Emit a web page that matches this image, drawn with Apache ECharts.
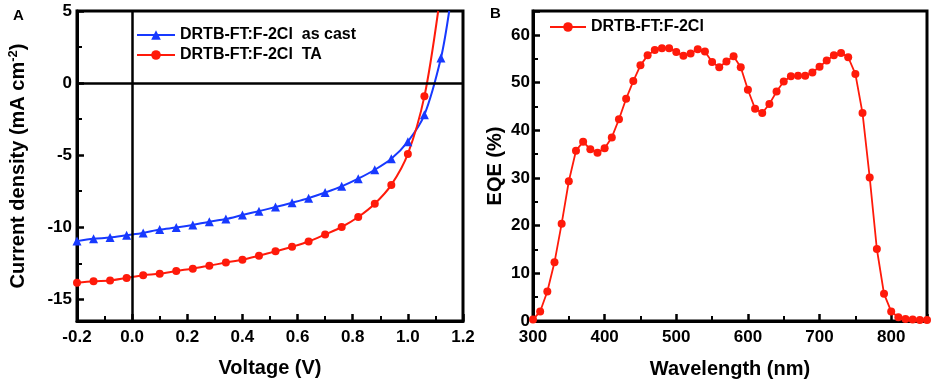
<!DOCTYPE html>
<html>
<head>
<meta charset="utf-8">
<script src="https://cdn.jsdelivr.net/npm/echarts@6/dist/echarts.min.js"></script>
<style>
  html, body { margin: 0; padding: 0; background: #fff; }
  #main { width: 936px; height: 384px; }
</style>
</head>
<body>
<div id="main"></div>
<script>
  // 面板A：J-V 曲线
  var voltage = [-0.2, -0.14, -0.08, -0.02, 0.04, 0.10, 0.16, 0.22, 0.28, 0.34, 0.40, 0.46,
    0.52, 0.58, 0.64, 0.70, 0.76, 0.82, 0.88, 0.94, 1.00, 1.06, 1.12];
  var jAsCast = [-10.96, -10.80, -10.71, -10.55, -10.39, -10.16, -10.02, -9.84, -9.61, -9.43, -9.15, -8.88,
    -8.60, -8.30, -7.98, -7.59, -7.16, -6.63, -6.01, -5.25, -4.06, -2.20, 1.74];
  var jTA = [-13.85, -13.74, -13.69, -13.51, -13.33, -13.23, -13.03, -12.87, -12.66, -12.45, -12.25, -11.97,
    -11.67, -11.35, -10.99, -10.50, -9.98, -9.29, -8.37, -7.06, -4.91, -0.92];
  // 曲线延伸到顶部（无标记点）
  var tailAsCast = [1.15, 5.0];
  var tailTA = [1.11, 5.0];

  // 面板B：EQE
  var wavelength = [300, 310, 320, 330, 340, 350, 360, 370, 380, 390, 400, 410, 420, 430, 440, 450,
    460, 470, 480, 490, 500, 510, 520, 530, 540, 550, 560, 570, 580, 590, 600, 610, 620, 630, 640,
    650, 660, 670, 680, 690, 700, 710, 720, 730, 740, 750, 760, 770, 780, 790, 800, 810, 820, 830, 840, 850];
  var eqe = [0.3, 2.0, 6.2, 12.3, 20.4, 29.3, 35.7, 37.6, 36.0, 35.3, 36.2, 38.5, 42.3, 46.6, 50.3, 53.6,
    55.7, 56.8, 57.2, 57.2, 56.4, 55.6, 56.1, 57.0, 56.5, 54.3, 53.2, 54.4, 55.5, 53.2, 48.5, 44.5, 43.6, 45.5, 48.1,
    50.2, 51.3, 51.4, 51.4, 52.1, 53.3, 54.6, 55.7, 56.2, 55.3, 51.8, 43.6, 30.1, 15.1, 5.7, 2.0, 0.8, 0.4, 0.3, 0.2, 0.2];

  var nameCast = 'DRTB-FT:F-2Cl  as cast';
  var nameTA = 'DRTB-FT:F-2Cl  TA';
  var nameEQE = 'DRTB-FT:F-2Cl';

  var FONT = 'Liberation Sans, Arial, sans-serif';
  var BLUE = '#1739ff';
  var RED = '#ff1a0a';

  function pairs(xs, ys, tail) {
    var out = [];
    for (var i = 0; i < ys.length; i++) {
      out.push([xs[i], ys[i]]);
    }
    if (tail) {
      out.push({ value: tail, symbol: 'none' });
    }
    return out;
  }

  function axisCommon() {
    return {
      axisLine: { show: true, onZero: false, lineStyle: { color: '#000', width: 3 } },
      axisTick: { show: true, inside: true, length: 7, lineStyle: { color: '#000', width: 2.5 } },
      minorTick: { show: true, splitNumber: 2, length: 5, lineStyle: { color: '#000', width: 2 } },
      splitLine: { show: false },
      axisLabel: { color: '#000', fontFamily: FONT, fontWeight: 'bold', fontSize: 17 },
      nameLocation: 'middle',
      nameTextStyle: { color: '#000', fontFamily: FONT, fontWeight: 'bold', fontSize: 20 }
    };
  }

  var chart = echarts.init(document.getElementById('main'));

  var xA = axisCommon();
  xA.gridIndex = 0;
  xA.type = 'value';
  xA.min = -0.2;
  xA.max = 1.2;
  xA.interval = 0.2;
  xA.name = 'Voltage (V)';
  xA.nameGap = 37;
  xA.axisLabel.margin = 8;
  xA.axisLabel.formatter = function (v) { return v.toFixed(1); };

  var yA = axisCommon();
  yA.gridIndex = 0;
  yA.type = 'value';
  yA.min = -16.5;
  yA.max = 5;
  yA.splitNumber = 4;
  yA.name = '{b|Current density (mA cm}{s|-2}{b|)}';
  yA.nameGap = 48;
  yA.nameTextStyle.rich = {
    b: { fontFamily: FONT, fontWeight: 'bold', fontSize: 20, color: '#000', lineHeight: 22 },
    s: { fontFamily: FONT, fontWeight: 'bold', fontSize: 13, color: '#000', verticalAlign: 'top', lineHeight: 22 }
  };
  yA.axisLabel.margin = 5;
  yA.axisLabel.showMinLabel = false;

  var xB = axisCommon();
  xB.gridIndex = 1;
  xB.type = 'value';
  xB.min = 300;
  xB.max = 850;
  xB.interval = 100;
  xB.name = 'Wavelength (nm)';
  xB.nameGap = 38;
  xB.axisLabel.margin = 8;
  xB.axisLabel.showMaxLabel = false;

  var yB = axisCommon();
  yB.gridIndex = 1;
  yB.type = 'value';
  yB.min = 0;
  yB.max = 65;
  yB.interval = 10;
  yB.name = 'EQE (%)';
  yB.nameGap = 28;
  yB.axisLabel.margin = 3;
  yB.axisLabel.showMaxLabel = false;

  var option = {
    animation: false,
    backgroundColor: '#fff',
    title: [{
      text: 'A', left: 8, top: 3,
      textStyle: { fontFamily: FONT, fontWeight: 'bold', fontSize: 15, color: '#000' }
    }, {
      text: 'B', left: 485, top: 1,
      textStyle: { fontFamily: FONT, fontWeight: 'bold', fontSize: 15, color: '#000' }
    }],
    grid: [{
      left: 77, top: 11, width: 386, height: 310,
      show: true, borderColor: '#000', borderWidth: 3
    }, {
      left: 533, top: 11, width: 394, height: 311,
      show: true, borderColor: '#000', borderWidth: 3
    }],
    // 图例
    legend: [{
      data: [nameCast, nameTA],
      orient: 'vertical',
      left: 131, top: 22,
      itemWidth: 38, itemHeight: 12, itemGap: 4,
      textStyle: { fontFamily: FONT, fontWeight: 'bold', fontSize: 16, color: '#000', lineHeight: 16 }
    }, {
      data: [nameEQE],
      left: 544, top: 14,
      itemWidth: 36, itemHeight: 12,
      textStyle: { fontFamily: FONT, fontWeight: 'bold', fontSize: 16, color: '#000' }
    }],
    xAxis: [xA, xB],
    yAxis: [yA, yB],
    series: [{
      name: nameCast,
      type: 'line',
      xAxisIndex: 0, yAxisIndex: 0,
      data: pairs(voltage, jAsCast, tailAsCast),
      smooth: 0.3,
      symbol: 'triangle',
      symbolSize: 9,
      lineStyle: { color: BLUE, width: 2 },
      itemStyle: { color: BLUE },
      markLine: {
        silent: true,
        symbol: 'none',
        label: { show: false },
        lineStyle: { color: '#000', width: 2.5, type: 'solid' },
        data: [{ xAxis: 0 }, { yAxis: 0 }]
      }
    }, {
      name: nameTA,
      type: 'line',
      xAxisIndex: 0, yAxisIndex: 0,
      data: pairs(voltage, jTA, tailTA),
      smooth: 0.3,
      symbol: 'circle',
      symbolSize: 8,
      lineStyle: { color: RED, width: 2 },
      itemStyle: { color: RED }
    }, {
      name: nameEQE,
      type: 'line',
      xAxisIndex: 1, yAxisIndex: 1,
      data: pairs(wavelength, eqe),
      symbol: 'circle',
      symbolSize: 8,
      lineStyle: { color: RED, width: 1.8 },
      itemStyle: { color: RED }
    }]
  };
  chart.setOption(option);
</script>
</body>
</html>
